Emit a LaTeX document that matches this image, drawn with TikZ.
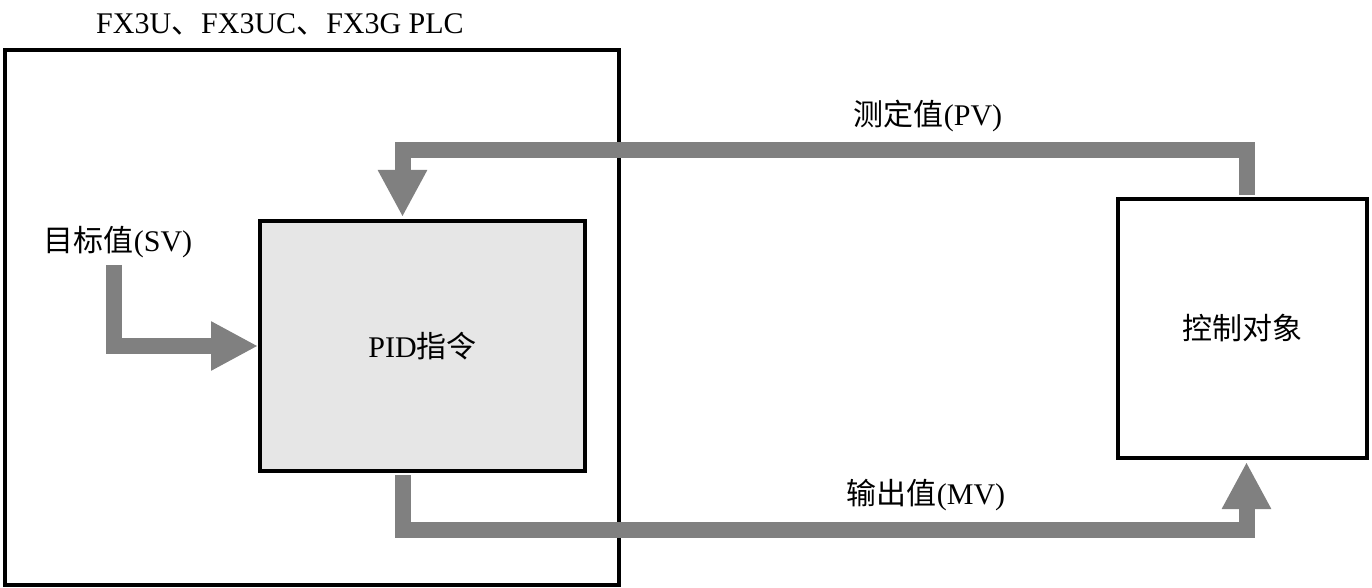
\documentclass[tikz,border=0pt]{standalone}
\usepackage{fontspec}
\setmainfont{Liberation Serif}
\newfontfamily\cjk{Noto Sans CJK SC}
\usetikzlibrary{positioning, arrows.meta}
\definecolor{flowgray}{HTML}{808080}
\definecolor{pidfill}{HTML}{E6E6E6}
\newcommand{\zh}[1]{{\cjk #1}}

\begin{document}
\begin{tikzpicture}[x=0.5pt, y=-0.5pt, font=\fontsize{15pt}{18pt}\selectfont,
    box/.style={draw=black, line width=2pt},
    flow/.style={draw=flowgray, line width=8pt, line join=miter,
      -{Triangle[length=23.5pt, width=23pt]}},
    plain/.style={draw=flowgray, line width=8pt, line join=miter}]
  \useasboundingbox (0,0) rectangle (1372,588);

  \node[box, minimum width=307pt, minimum height=267.5pt] (plc) at (312,317.5) {};
  \node (plclabel) at (280,24) {FX3U\zh{、}FX3UC\zh{、}FX3G PLC};
  \node[box, fill=pidfill, minimum width=162.5pt, minimum height=125pt] (pid) at (422.5,346) {PID\zh{指令}};
  \node[box, fill=white, minimum width=124.5pt, minimum height=129.5pt] (obj) at (1242.5,328.5) {\zh{控制对象}};

  \node (sv) at (118,242) {\zh{目标值}(SV)};
  \node (pv) at (928,116) {\zh{测定值}(PV)};
  \node (mv) at (926,495) {\zh{输出值}(MV)};

  % feedback and output paths
  \draw[flow] ([xshift=-2pt]sv.south) |- (pid.west);
  \draw[flow] ([xshift=2pt,yshift=1pt]obj.north) -- ++(0,-45) -| ([xshift=-10pt,yshift=1pt]pid.north);
  \draw[flow] ([xshift=-10pt,yshift=-1pt]pid.south) -- ++(0,55) -| ([xshift=2pt,yshift=-1pt]obj.south);
\end{tikzpicture}
\end{document}
